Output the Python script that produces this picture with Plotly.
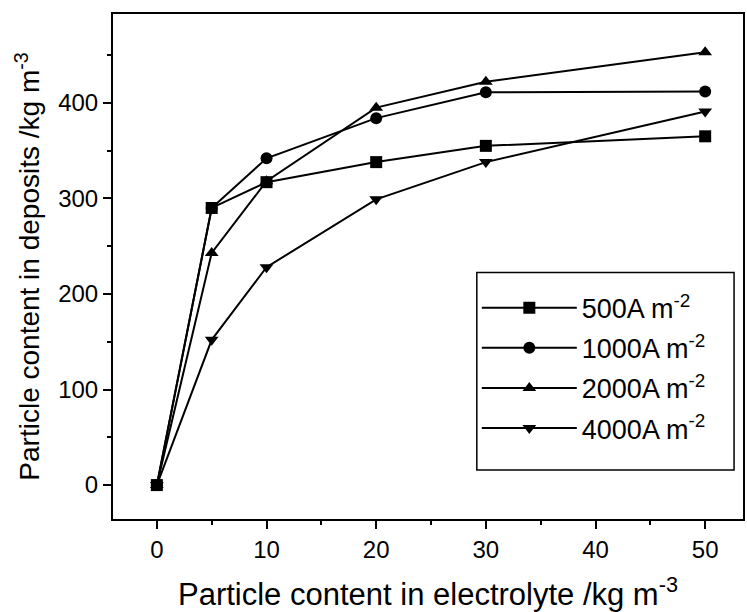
import plotly.graph_objects as go

x_vals = [0, 5, 10, 20, 30, 50]
s500 = [0, 290, 317, 338, 355, 365]
s1000 = [0, 290, 342, 384, 411, 412]
s2000 = [0, 243, 318, 395, 422, 453]
s4000 = [0, 152, 228, 299, 338, 391]

names = ["500A m<sup>-2</sup>", "1000A m<sup>-2</sup>", "2000A m<sup>-2</sup>", "4000A m<sup>-2</sup>"]
series = [s500, s1000, s2000, s4000]
symbols = ["square", "circle", "triangle-up", "triangle-down"]

fig = go.Figure()
for i, (nm, ys, sym) in enumerate(zip(names, series, symbols)):
    fig.add_trace(go.Scatter(
        x=x_vals, y=ys, name=nm, mode="lines+markers",
        line=dict(color="black", width=2),
        marker=dict(symbol=sym, size=12, color="black"),
        legendgroup=f"g{i}",
    ))

axis_common = dict(
    showline=True, linecolor="black", linewidth=2, mirror=True,
    ticks="outside", ticklen=8, tickwidth=2, tickcolor="black",
    showgrid=False, zeroline=False,
    tickfont=dict(size=24, color="black"),
)

fig.update_xaxes(
    range=[-4, 53.45], tickmode="array", tickvals=[0, 10, 20, 30, 40, 50],
    minor=dict(ticks="outside", ticklen=4, tickwidth=1.5, tickcolor="black", dtick=5, tick0=0),
    title=dict(text="Particle content in electrolyte /kg m<sup>-3</sup>", font=dict(size=31, color="black"), standoff=26),
    **axis_common,
)
fig.update_yaxes(
    range=[-35.5, 493], tickmode="array", tickvals=[0, 100, 200, 300, 400],
    minor=dict(ticks="outside", ticklen=4, tickwidth=1.5, tickcolor="black", dtick=50, tick0=0),
    title=dict(text="Particle content in deposits /kg m<sup>-3</sup>", font=dict(size=28, color="black"), standoff=10),
    **axis_common,
)

# legend frame drawn as a rectangle so its padding matches the reference
fig.add_shape(type="rect", xref="paper", yref="paper",
              x0=0.5775, x1=0.9858, y0=0.0968, y1=0.4881,
              line=dict(color="black", width=1.5), fillcolor="rgba(0,0,0,0)", layer="above")

fig.update_layout(
    width=747, height=612,
    margin=dict(l=113, r=2, t=14, b=92),
    paper_bgcolor="white", plot_bgcolor="white",
    font=dict(family="Liberation Sans, Arial, sans-serif", color="black"),
    showlegend=True,
    legend=dict(
        x=0.5775, y=0.466, xanchor="left", yanchor="top",
        borderwidth=0, bgcolor="rgba(0,0,0,0)",
        font=dict(size=27, color="black"),
        itemwidth=95, tracegroupgap=2, traceorder="grouped",
    ),
)

fig.write_html("out.html")
